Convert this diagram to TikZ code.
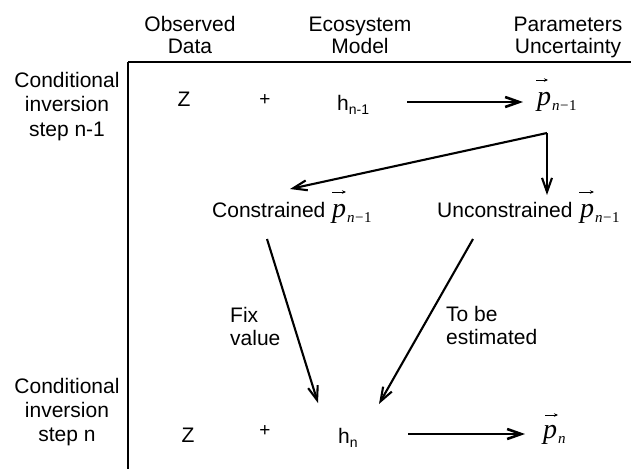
\documentclass[tikz,border=0pt]{standalone}
\usepackage{fontspec}
\setmainfont{Liberation Sans}
\newfontfamily\tms{Liberation Serif}
\usetikzlibrary{arrows.meta}
\newcommand\pvar[1]{{\tms\fontsize{28}{28}\selectfont\itshape p}\kern1pt\raisebox{-5pt}{\tms\fontsize{15}{15}\selectfont #1}}
\newcommand\hvar[1]{h\raisebox{-4pt}{\fontsize{14}{14}\selectfont #1}}
\tikzset{
  hdr/.style={font=\fontsize{21}{22}\selectfont, align=center, anchor=north, inner sep=0pt},
  rowlab/.style={font=\fontsize{21}{24.5}\selectfont, align=center, anchor=north, inner sep=0pt},
  lbl/.style={font=\fontsize{21}{23}\selectfont, align=left, anchor=north west, inner sep=0pt},
  txt/.style={font=\fontsize{21}{24}\selectfont, inner sep=0pt, anchor=base west},
  plus/.style={font=\fontsize{19}{19}\selectfont, inner sep=0pt, anchor=base},
  rule/.style={line width=1.3pt},
  bigarrow/.style={line width=2.6pt, -{Straight Barb[length=14pt,width=10pt]}},
  diagarrow/.style={line width=2.1pt, -{Straight Barb[length=14pt,width=10pt]}},
  vecarrow/.style={line width=1pt, -{Stealth[length=4pt,width=3.5pt]}}
}
\begin{document}
\begin{tikzpicture}[x=1pt,y=-1pt]
\useasboundingbox (0,0) rectangle (631,469);
% header
\node[hdr] (obs) at (190,16.5) {Observed\\Data};
\node[hdr] (eco) at (360,16.5) {Ecosystem\\Model};
\node[hdr] (par) at (568,16.5) {Parameters\\Uncertainty};
% row labels
\node[rowlab] (row1) at (67,72) {Conditional\\inversion\\step n-1};
\node[rowlab, font=\fontsize{21}{24}\selectfont] (row2) at (67,378) {Conditional\\inversion\\step n};
% table rules
\draw[rule] (128,62) -- (631,62);
\draw[rule] (128,62) -- (128,469);
% step n-1
\node[txt, anchor=base] (zA) at (184,106) {Z};
\node[plus] (plusA) at (265,105) {+};
\node[txt] (hA) at (337,110) {\hvar{n-1}};
\node[txt] (pA) at (537,105) {\pvar{{\itshape n}\kern0.5pt−\kern0.5pt1}};
% middle
\node[txt] (con) at (212,217) {Constrained};
\node[txt] (pB) at (332,217) {\pvar{{\itshape n}\kern0.5pt−\kern0.5pt1}};
\node[txt] (un) at (437,217) {Unconstrained};
\node[txt] (pC) at (580,217) {\pvar{{\itshape n}\kern0.5pt−\kern0.5pt1}};
\node[lbl] (fix) at (230,307) {Fix\\value};
\node[lbl] (tbe) at (446,306) {To be\\estimated};
% step n
\node[txt, anchor=base] (zB) at (188,442) {Z};
\node[plus] (plusB) at (265,436) {+};
\node[txt] (hB) at (338,443) {\hvar{n}};
\node[txt] (pD) at (543,438) {\pvar{\itshape n}};
% vector marks
\draw[vecarrow] ([shift={(-1,-25)}]pA.base west) -- ([shift={(11,-25)}]pA.base west);
\draw[vecarrow] ([shift={(0,-25)}]pB.base west) -- ([shift={(14,-25)}]pB.base west);
\draw[vecarrow] ([shift={(-1,-25)}]pC.base west) -- ([shift={(14,-25)}]pC.base west);
\draw[vecarrow] ([shift={(2,-23)}]pD.base west) -- ([shift={(15,-23)}]pD.base west);
% connectors
\draw[bigarrow] ([shift={(70,-8)}]hA.base west) -- ([shift={(-14,-3)}]pA.base west);
\draw[diagarrow] ([shift={(10,28)}]pA.base west) -- ([shift={(78,-28)}]con.base west);
\draw[diagarrow] ([shift={(10,28)}]pA.base west) -- ([shift={(110,-22)}]un.base west);
\draw[diagarrow] ([shift={(55,22)}]con.base west) -- ([shift={(-20,-40)}]hB.base west);
\draw[diagarrow] ([shift={(36,22)}]un.base west) -- ([shift={(41,-39)}]hB.base west);
\draw[bigarrow] ([shift={(70,-9)}]hB.base west) -- ([shift={(-18,-4)}]pD.base west);
\end{tikzpicture}
\end{document}
